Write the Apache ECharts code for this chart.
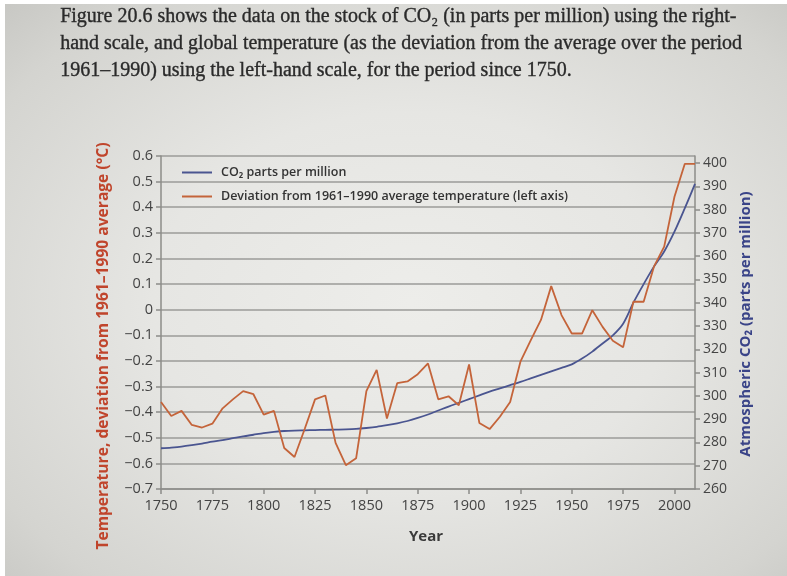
<!DOCTYPE html>
<html>
<head>
<meta charset="utf-8">
<script src="https://cdn.jsdelivr.net/npm/echarts@6/dist/echarts.min.js"></script>
<style>
  html, body { margin:0; padding:0; width:787px; height:576px; overflow:hidden; }
  body { background: #fff; }
  #page { position:absolute; left:5px; top:4px; right:0; bottom:0;
    background: radial-gradient(ellipse at 52% 52%, #ededea 0%, #e6e6e3 45%, #d4d4d0 85%, #c8c8c4 100%); }
  #chart { position:absolute; left:0; top:0; width:787px; height:576px; }
</style>
</head>
<body>
<div id="page"></div>
<div id="chart"></div>
<script>
// ---- data ----
const years = [1750,1755,1760,1765,1770,1775,1780,1785,1790,1795,
               1800,1805,1810,1815,1820,1825,1830,1835,1840,1845,
               1850,1855,1860,1865,1870,1875,1880,1885,1890,1895,
               1900,1905,1910,1915,1920,1925,1930,1935,1940,1945,
               1950,1955,1960,1965,1970,1975,1980,1985,1990,1995,
               2000,2005,2010];
const tempDeviation = [-0.36,-0.415,-0.395,-0.45,-0.46,-0.445,-0.385,-0.35,-0.318,-0.33,
                       -0.41,-0.395,-0.54,-0.575,-0.465,-0.35,-0.335,-0.52,-0.607,-0.58,
                       -0.318,-0.235,-0.425,-0.287,-0.28,-0.252,-0.21,-0.35,-0.338,-0.373,
                       -0.214,-0.442,-0.466,-0.418,-0.36,-0.203,-0.12,-0.04,0.092,-0.021,
                       -0.093,-0.093,-0.002,-0.067,-0.121,-0.147,0.031,0.031,0.168,0.246,
                       0.441,0.569,0.569];
const co2ppm = [277.5,277.8,278.2,278.8,279.5,280.3,281.0,281.8,282.6,283.3,
                284.0,284.5,284.9,285.1,285.2,285.3,285.4,285.5,285.6,285.8,
                286.2,286.7,287.4,288.2,289.2,290.5,292.0,293.7,295.4,297.0,
                298.6,300.2,301.8,303.2,304.6,306.0,307.5,309.0,310.5,312.0,
                313.5,316.0,319.0,322.5,326.0,331.0,340.0,348.0,355.5,362.0,
                370.5,380.5,391.0];
const seriesNames = ['CO\u2082 parts per million', 'Deviation from 1961\u20131990 average temperature (left axis)'];
const paragraph = [
  'Figure 20.6 shows the data on the stock of CO\u2082 (in parts per million) using the right-',
  'hand scale, and global temperature (as the deviation from the average over the period',
  '1961\u20131990) using the left-hand scale, for the period since 1750.'
];
const leftAxisName = 'Temperature, deviation from 1961\u20131990 average (\u00b0C)';
const rightAxisName = 'Atmospheric CO\u2082 (parts per million)';
const xAxisName = 'Year';

// ---- chart ----
const chart = echarts.init(document.getElementById('chart'), null, {renderer:'canvas'});
const FONT = '"Open Sans", "Noto Sans", sans-serif';
const tempColor = '#c4643a';
const co2Color = '#4a5590';
const gridColor = '#9b9b98';
const labelColor = '#444';

const fmtTemp = v => {
  if (Math.abs(v) < 1e-9) return '0';
  return (v < 0 ? '\u2212' : '') + Math.abs(v).toFixed(1);
};

const graphic = paragraph.map((t, i) => ({
  type:'text', left:60, top:7 + i*27, silent:true,
  style:{ text:t, font:'20px "Liberation Serif", "DejaVu Serif", serif', fill:'#2a2a2a',
          stroke:'#2a2a2a', lineWidth:0.35 }
}));
graphic.push({
  type:'text', x:104, y:346, rotation:Math.PI/2, silent:true,
  style:{ text:leftAxisName, x:0, y:0, align:'center', verticalAlign:'middle',
          font:'bold 15.6px ' + FONT, fill:'#c0452c' }
});
graphic.push({
  type:'text', x:746, y:324, rotation:Math.PI/2, silent:true,
  style:{ text:rightAxisName, x:0, y:0, align:'center', verticalAlign:'middle',
          font:'bold 15px ' + FONT, fill:'#3a4488' }
});
graphic.push({
  type:'text', x:426, y:537, silent:true,
  style:{ text:xAxisName, x:0, y:0, align:'center', verticalAlign:'middle',
          font:'bold 15px ' + FONT, fill:'#3a3a3a' }
});

chart.setOption({
  animation:false,
  backgroundColor:'transparent',
  textStyle:{ fontFamily:FONT },
  grid:{ left:161, right:92, top:156, bottom:87, containLabel:false },
  legend:{
    orient:'vertical', left:177, top:161, itemWidth:30, itemHeight:2, itemGap:11,
    icon:'rect',
    textStyle:{ fontSize:12.5, fontWeight:600, color:'#333', padding:[0,0,0,4], fontFamily:FONT },
    data: seriesNames
  },
  xAxis:{
    type:'value', min:1750, max:2010, interval:25,
    axisLine:{ show:true, onZero:false, lineStyle:{ color:'#8c8c89', width:1.5 } },
    axisTick:{ show:true, length:5, lineStyle:{ color:'#8c8c89', width:1.5 } },
    axisLabel:{ color:labelColor, fontSize:14.5, margin:9, showMaxLabel:false, formatter: v => String(v) },
    splitLine:{ show:false }
  },
  yAxis:[{
    type:'value', position:'left', min:-0.7, max:0.6, interval:0.1,
    axisLine:{ show:true, lineStyle:{ color:'#8c8c89', width:1.5 } },
    axisTick:{ show:true, length:5, lineStyle:{ color:'#8c8c89', width:1.5 } },
    axisLabel:{ color:labelColor, fontSize:14.5, margin:8, formatter: fmtTemp },
    splitLine:{ show:true, lineStyle:{ color:gridColor, width:1.5 } }
  },{
    type:'value', position:'right', min:260, max:403, interval:10,
    axisLine:{ show:true, lineStyle:{ color:'#8c8c89', width:1.5 } },
    axisTick:{ show:true, length:5, lineStyle:{ color:'#8c8c89', width:1.5 } },
    axisLabel:{ color:labelColor, fontSize:14, margin:8, showMaxLabel:false },
    splitLine:{ show:false }
  }],
  series:[{
    name: seriesNames[0], type:'line', yAxisIndex:1, showSymbol:false, smooth:0.3,
    lineStyle:{ color:co2Color, width:1.8 }, itemStyle:{ color:co2Color },
    data: years.map((y, i) => [y, co2ppm[i]])
  },{
    name: seriesNames[1], type:'line', yAxisIndex:0, showSymbol:false,
    lineStyle:{ color:tempColor, width:1.8 }, itemStyle:{ color:tempColor },
    data: years.map((y, i) => [y, tempDeviation[i]])
  }],
  graphic: graphic
});
</script>
</body>
</html>
